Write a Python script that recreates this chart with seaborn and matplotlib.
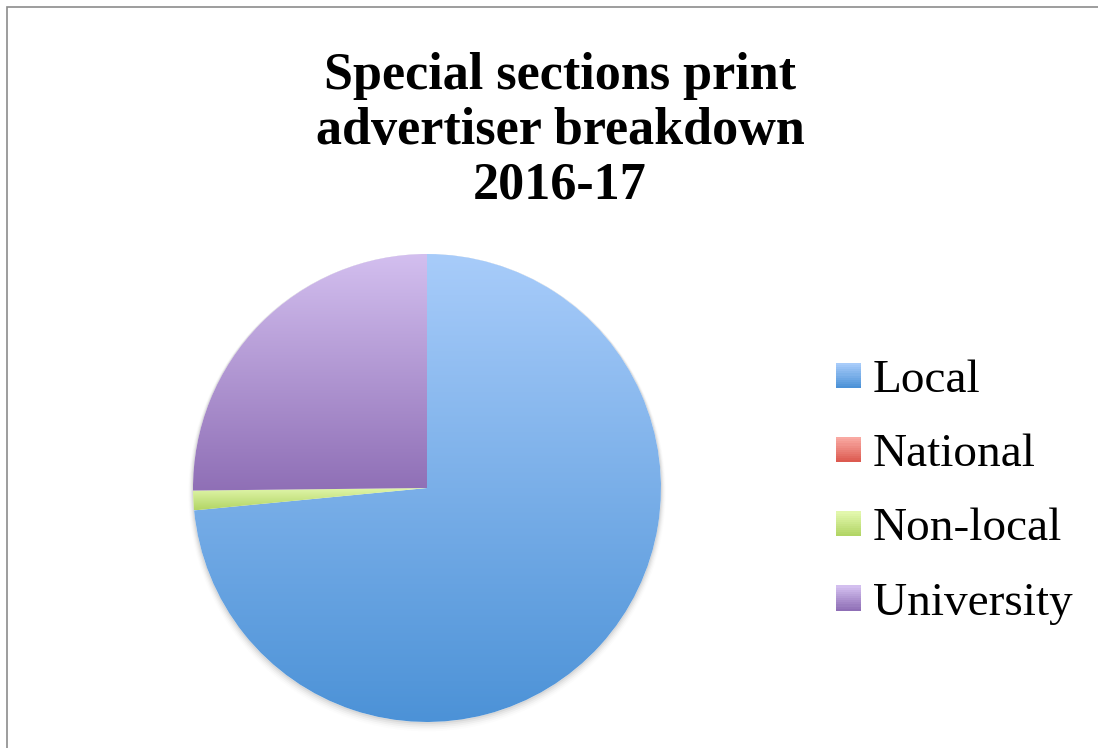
import numpy as np
import matplotlib
matplotlib.use("Agg")
import matplotlib.pyplot as plt
import seaborn as sns
from matplotlib.patches import Rectangle
from matplotlib.colors import to_rgb
from matplotlib.legend_handler import HandlerBase

categories = ["Local", "National", "Non-local", "University"]
values = [73.4, 0.0, 1.35, 25.15]
top_colors = ["#a8ccfa", "#f9a9a2", "#e2f7ac", "#d3bfef"]
bottom_colors = ["#4c92d7", "#dc5a50", "#b2d565", "#8f6fb6"]
title = "Special sections print\nadvertiser breakdown\n2016-17"

sns.set_theme(style="white")
plt.rcParams['font.family'] = ['Liberation Serif', 'DejaVu Serif']
plt.rcParams['text.color'] = 'black'

W, H = 1098, 748
fig = plt.figure(figsize=(W / 100, H / 100), dpi=100)
fig.patch.set_facecolor("white")

# border frame
fig.add_artist(Rectangle((7 / W, -0.05), 1.2, (H - 7) / H + 0.05, transform=fig.transFigure,
                         fill=False, edgecolor="#8c8c8c", linewidth=1.2))

cx, cy, r = 427, 488, 234
ax = fig.add_axes([(cx - r) / W, (H - cy - r) / H, 2 * r / W, 2 * r / H])
ax.axis("off")

# soft shadow
for k, a in enumerate(np.linspace(0.05, 0.01, 5)):
    circ = plt.Circle((0.0, -0.004 * (k + 1)), 1.0 + 0.004 * (k + 1), color="black", alpha=a,
                      lw=0, zorder=0, clip_on=False)
    ax.add_patch(circ)
ax.add_patch(plt.Circle((0, 0), 1.0, color="white", lw=0, zorder=0.5, clip_on=False))

wedges, _ = ax.pie(values, startangle=90, counterclock=False, radius=1.0,
                   wedgeprops=dict(linewidth=0))


def gradient_img(c_top, c_bot, n=256):
    t = np.linspace(0, 1, n)[:, None]
    a = np.array(to_rgb(c_top))
    b = np.array(to_rgb(c_bot))
    return a[None, None, :] * (1 - t[:, :, None]) + b[None, None, :] * t[:, :, None]


for w, ct, cb, v in zip(wedges, top_colors, bottom_colors, values):
    w.set_facecolor("none")
    w.set_edgecolor("none")
    if v <= 0:
        continue
    bb = w.get_path().get_extents(w.get_patch_transform())
    im = ax.imshow(gradient_img(ct, cb), extent=[-1.05, 1.05, bb.y0, bb.y1], aspect="auto",
                   origin="upper", zorder=1, interpolation="bilinear")
    im.set_clip_path(w)

ax.set_xlim(-1.0, 1.0)
ax.set_ylim(-1.0, 1.0)
ax.set_aspect("auto")


class GradientHandler(HandlerBase):
    def __init__(self, ct, cb):
        super().__init__()
        self.ct, self.cb = ct, cb

    def create_artists(self, legend, orig_handle, xdescent, ydescent, width, height, fontsize, trans):
        arts = []
        n = 12
        a = np.array(to_rgb(self.ct))
        b = np.array(to_rgb(self.cb))
        size = 0.53 * fontsize
        x0 = -xdescent
        y0 = -ydescent + (height - size) / 2
        for i in range(n):
            t = i / (n - 1)
            col = b * (1 - t) + a * t
            arts.append(Rectangle((x0, y0 + size * i / n), size, size / n + 0.3, facecolor=col,
                                  edgecolor="none", transform=trans))
        return arts


handles = [Rectangle((0, 0), 1, 1) for _ in categories]
handler_map = {h: GradientHandler(ct, cb) for h, ct, cb in zip(handles, top_colors, bottom_colors)}
leg = fig.legend(handles, categories, handler_map=handler_map, loc="upper left",
                 bbox_to_anchor=(836 / W, 1 - 359 / H), frameon=False, fontsize=34,
                 handlelength=0.53, handleheight=0.7, handletextpad=0.25, labelspacing=0.66,
                 borderaxespad=0, borderpad=0)
for t in leg.get_texts():
    t.set_color("black")

fig.text(560 / W, 1 - 131 / H, title, ha="center", va="center", fontsize=37.5, fontweight="bold",
         linespacing=1.18, color="black")

fig.savefig("out.png", dpi=100, facecolor="white")
